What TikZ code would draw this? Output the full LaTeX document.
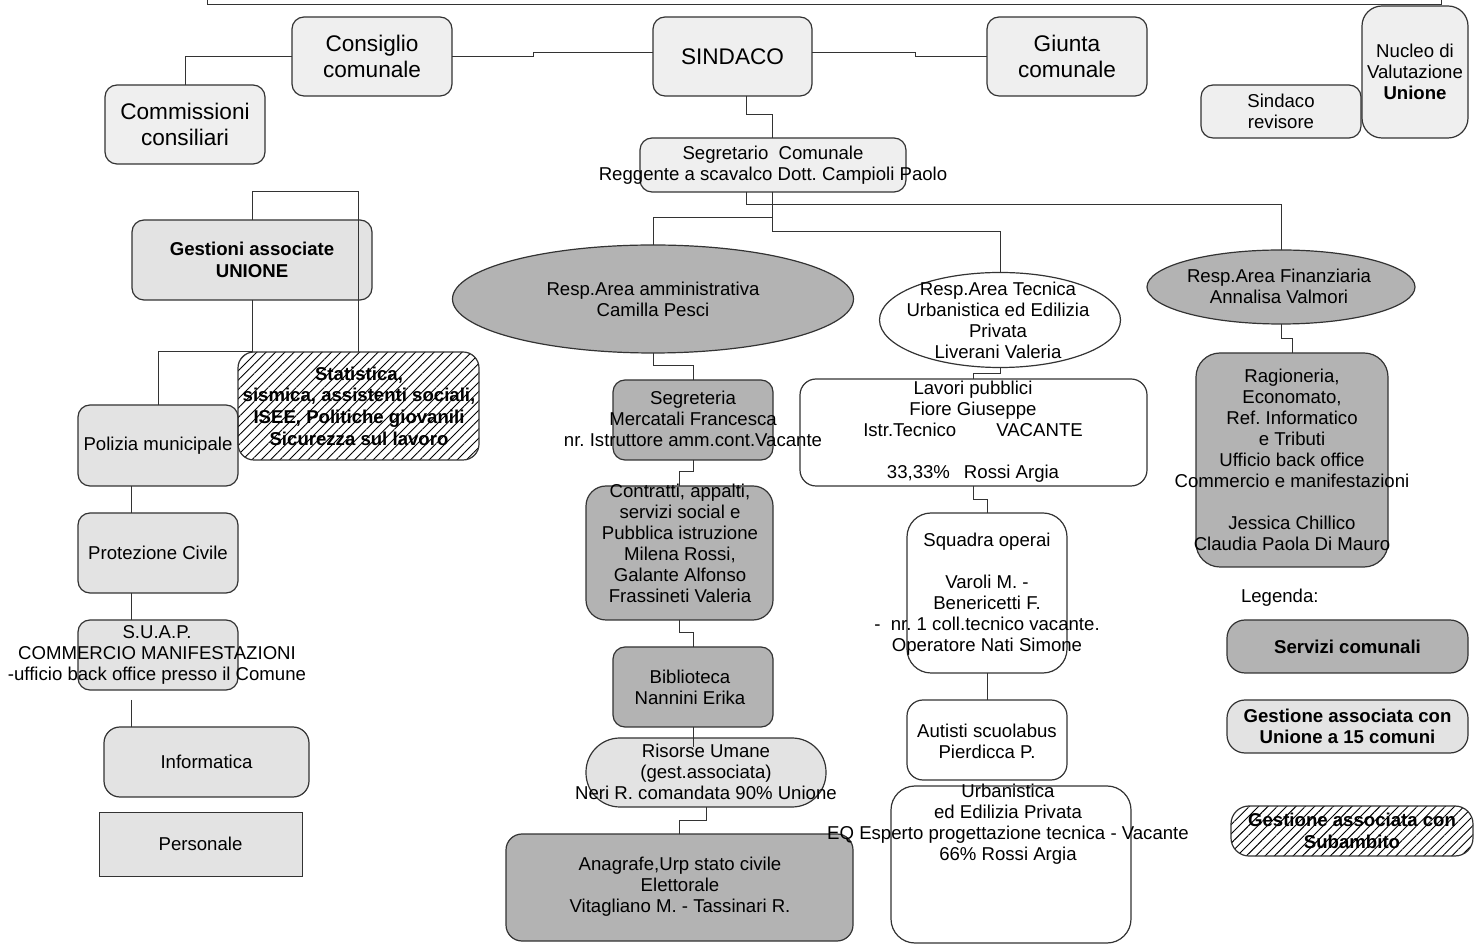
\documentclass[tikz,border=0pt]{standalone}
\usepackage{fontspec}
\setmainfont{Liberation Sans}
\usetikzlibrary{fit,shapes.geometric,patterns.meta}
\definecolor{lg}{HTML}{EFEFEF}
\definecolor{dg}{HTML}{B3B3B3}
\definecolor{mb}{HTML}{E3E3E3}
\definecolor{ln}{HTML}{333333}
\frenchspacing
\begin{document}
\begin{tikzpicture}[x=0.5pt,y=-0.5pt,
 every node/.style={inner sep=0pt, outer sep=0pt},
 lbox/.style={draw=ln, line width=0.6pt, fill=lg, rounded corners=6pt},
 mbox/.style={draw=ln, line width=0.6pt, fill=mb, rounded corners=6pt},
 gbox/.style={draw=ln, line width=0.6pt, fill=dg, rounded corners=6pt},
 wbox/.style={draw=ln, line width=0.6pt, fill=white, rounded corners=8pt},
 hbox/.style={draw=ln, line width=0.6pt, rounded corners=8pt, pattern={Lines[angle=45,distance=3.3pt,line width=0.45pt]}},
 ell/.style={ellipse, draw=ln, line width=0.6pt},
 txt/.style={align=center, font=\fontsize{9.3}{10.5}\selectfont},
 big/.style={align=center, font=\fontsize{11.3}{12.6}\selectfont},
 bt/.style={align=center, font=\bfseries\fontsize{9.3}{10.8}\selectfont},
 conn/.style={draw=ln, line width=0.5pt},
]
\useasboundingbox (0,0) rectangle (1483,945);

% top frame
\coordinate (fl) at (207,-2);
\coordinate (fr) at (1441,-2);
\draw[conn] (fl) -- (207,5) -- (1441,5) -- (fr);

% ---------- boxes ----------
\node[lbox, fit={(292,17)(452,96)}] (cons) {};
\node[lbox, fit={(653,17)(812,96)}] (sind) {};
\node[lbox, fit={(987,17)(1147,96)}] (giun) {};
\node[lbox, fit={(105,85)(265,164)}] (comm) {};
\node[lbox, rounded corners=10pt, fit={(1362,6)(1468,138)}] (nucl) {};
\node[lbox, fit={(1201,85)(1361,138)}] (rev) {};
\node[lbox, fit={(640,138)(906,192)}] (seg) {};

\node[mbox, fit={(132,220)(372,300)}] (gest) {};
\node[mbox, fit={(78,405)(238,486)}] (pol) {};
\node[hbox, fit={(238,352)(479,460)}] (stat) {};
\node[mbox, fit={(78,513)(238,593)}] (prot) {};
\node[mbox, fit={(78,620)(238,690)}] (suap) {};
\node[mbox, rounded corners=8pt, fit={(104,727)(309,797)}] (info) {};
\node[mbox, sharp corners, line width=0.5pt, fit={(99,812)(302,876)}] (pers) {};

\node[ell, fill=dg, minimum width=200.5pt, minimum height=54pt] (amm) at (653,299) {};
\node[gbox, fit={(613,380)(773,460)}] (segr) {};
\node[gbox, rounded corners=10pt, fit={(586,486)(773,620)}] (contr) {};
\node[gbox, fit={(613,647)(773,727)}] (bibl) {};
\node[mbox, rounded corners=17pt, fit={(586,738)(826,807)}] (ris) {};
\node[gbox, rounded corners=8pt, fit={(506,834)(853,941)}] (anag) {};

\node[ell, fill=white, minimum width=120.5pt, minimum height=47.5pt] (tec) at (1000,320) {};
\node[wbox, fit={(800,379)(1147,486)}] (lav) {};
\node[wbox, rounded corners=12pt, fit={(907,513)(1067,673)}] (squ) {};
\node[wbox, fit={(907,700)(1067,780)}] (aut) {};
\node[wbox, rounded corners=12pt, fit={(891,786)(1131,943)}] (urb) {};

\node[ell, fill=dg, minimum width=134pt, minimum height=37pt] (fin) at (1281,287) {};
\node[gbox, rounded corners=12pt, fit={(1196,353)(1388,567)}] (rag) {};

\node[gbox, rounded corners=9pt, fit={(1227,620)(1468,673)}] (lg1) {};
\node[mbox, rounded corners=9pt, fit={(1227,700)(1468,753)}] (lg2) {};
\node[hbox, rounded corners=9pt, fit={(1231,806)(1473,856)}] (lg3) {};

% ---------- connectors ----------
\draw[conn] (cons.east) -- (533,56.5) -- (533,53) -- (sind.west |- 0,53);
\draw[conn] (sind.east |- 0,53) -- (915,53) -- (915,56.5) -- (giun.west);
\draw[conn] (cons.west) -| (comm.north);
\draw[conn] (sind.south -| 746,0) -- (746,115) -- (772,115) -- (seg.north -| 772,0);
\draw[conn] (seg.south -| 746,0) -- (746,205) -| (fin.north);
\draw[conn] (seg.south -| 772,0) -- (772,232) -| (tec.north);
\draw[conn] (seg.south -| 772,0) -- (772,218) -| (amm.north);

\draw[conn] (gest.north) -- (252,192) -| (stat.north);
\draw[conn] (gest.south) -- (252,352) -| (pol.north);
\draw[conn] (pol.south -| 131,0) -- (prot.north -| 131,0);
\draw[conn] (prot.south -| 131,0) -- (suap.north -| 131,0);
\coordinate (suapb) at (131,700);
\draw[conn] (suapb) -- (info.north -| 131,0);

\draw[conn] (amm.south) -- (653,366) -| (segr.north);
\draw[conn] (segr.south) -- (693,472) -| (contr.north);
\draw[conn] (contr.south) -- (679.5,633) -| (bibl.north);
\draw[conn] (bibl.south) -- ([yshift=-4.5pt]ris.north -| bibl.south);
\draw[conn] (ris.south) -- (706,820) -| (anag.north);

\draw[conn] (tec.south) -- (1000,374) -| (lav.north);
\draw[conn] (lav.south) -- (973.5,500) -| (squ.north);
\draw[conn] (squ.south) -- (aut.north);
\draw[conn] (fin.south) -- (1281,339) -| (rag.north);

% ---------- texts ----------
\node[big] (tcons) at (cons) {Consiglio\\comunale};
\node[big] (tsind) at (sind) {SINDACO};
\node[big] (tgiun) at (giun) {Giunta\\comunale};
\node[big] (tcomm) at (comm) {Commissioni\\consiliari};
\node[txt] (tnucl) at (1415,72) {Nucleo di\\Valutazione\\\textbf{Unione}};
\node[txt] (trev) at (rev) {Sindaco\\revisore};
\node[txt] (tseg) at (773,165) {Segretario\ \ Comunale\\Reggente a scavalco Dott. Campioli Paolo};

\node[bt] (tgest) at (gest) {Gestioni associate\\UNIONE};
\node[txt] (tpol) at (pol) {Polizia municipale};
\node[bt] (tstat) at (359,406) {Statistica,\\sismica, assistenti sociali,\\ISEE, Politiche giovanili\\Sicurezza sul lavoro};
\node[txt] (tprot) at (prot) {Protezione Civile};
\node[txt] (tsuap) at (157,655) {S.U.A.P.\\COMMERCIO MANIFESTAZIONI\\-ufficio back office presso il Comune};
\node[txt] (tinfo) at (info) {Informatica};
\node[txt] (tpers) at (pers) {Personale};

\node[txt] (tamm) at (653,299) {Resp.Area amministrativa\\Camilla Pesci};
\node[txt] (tsegr) at (693,419) {Segreteria\\Mercatali Francesca\\nr. Istruttore amm.cont.Vacante};
\node[txt] (tcontr) at (680,543) {Contratti, appalti,\\ servizi social e\\Pubblica istruzione\\ Milena Rossi,\\Galante Alfonso\\ Frassineti Valeria};
\node[txt] (tbibl) at (690,687) {Biblioteca\\Nannini Erika};
\node[txt] (tris) at (706,772) {Risorse Umane\\ (gest.associata)\\Neri R. comandata 90\% Unione};
\node[txt] (tanag) at (680,887) {Anagrafe,Urp stato civile\\Elettorale\\Vitagliano M. - Tassinari R.};

\node[txt] (ttec) at (998,320) {Resp.Area Tecnica\\Urbanistica ed Edilizia\\Privata\\Liverani Valeria};
\node[txt] (tlav) at (973,432) {Lavori pubblici\\Fiore Giuseppe\\Istr.Tecnico\hspace{20pt}VACANTE\\[10.5pt]33,33\%\hspace{7pt}Rossi Argia};
\node[txt] (tsqu) at (987,594) {Squadra operai\\[10.5pt]Varoli M. -\\Benericetti F.\\-\ \ nr. 1 coll.tecnico vacante.\\Operatore Nati Simone};
\node[txt] (taut) at (987,741) {Autisti scuolabus\\Pierdicca P.};
\node[txt] (turb) at (1008,824) {Urbanistica\\ed Edilizia Privata\\EQ Esperto progettazione tecnica - Vacante\\66\% Rossi Argia};

\node[txt] (tfin) at (1279,286) {Resp.Area Finanziaria\\Annalisa Valmori};
\node[txt] (trag) at (1292,460) {Ragioneria,\\Economato,\\Ref. Informatico\\e Tributi\\Ufficio back office\\Commercio e manifestazioni\\[10.5pt]Jessica Chillico\\Claudia Paola Di Mauro};

\node[txt, anchor=west] (tleg) at (1241,598) {Legenda:};
\node[bt] (tlg1) at (lg1) {Servizi comunali};
\node[bt] (tlg2) at (lg2) {Gestione associata con\\Unione a 15 comuni};
\node[bt] (tlg3) at (1352,831) {Gestione associata con\\Subambito};
\end{tikzpicture}
\end{document}
